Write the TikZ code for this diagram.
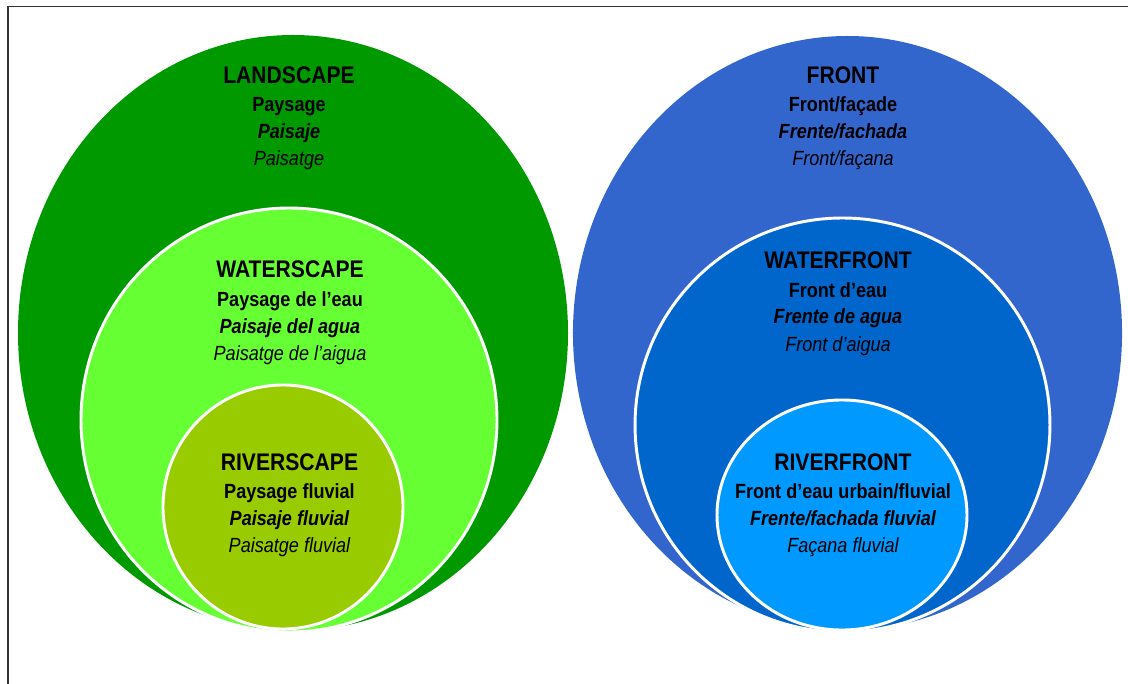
\documentclass[tikz,border=0pt]{standalone}
\usepackage{fontspec}
\setmainfont[FakeStretch=0.88]{Liberation Sans}
\usetikzlibrary{shapes.geometric}
\definecolor{cLand}{HTML}{009900}
\definecolor{cWater}{HTML}{66FF33}
\definecolor{cRiver}{HTML}{99CC00}
\definecolor{cFront}{HTML}{3366CC}
\definecolor{cWfront}{HTML}{0066CC}
\definecolor{cRfront}{HTML}{0099FF}
\tikzset{
  blob/.style={ellipse, inner sep=0pt, outer sep=0pt},
  inner blob/.style={blob, draw=white, line width=2.2pt},
  ttl/.style={anchor=base, inner sep=0pt, font=\fontsize{18}{20}\selectfont\bfseries},
  lfr/.style={anchor=base, inner sep=0pt, font=\fontsize{15.4}{18}\selectfont\bfseries},
  les/.style={anchor=base, inner sep=0pt, font=\fontsize{15.4}{18}\selectfont\bfseries\itshape},
  lca/.style={anchor=base, inner sep=0pt, font=\fontsize{15.4}{18}\selectfont\itshape},
  frame/.style={line width=0.9pt, draw=black!80},
}
\begin{document}
\begin{tikzpicture}[x=0.75pt,y=-0.75pt]
\useasboundingbox (0,0) rectangle (1128,684);
\draw[frame] (8,684) -- (8,6.5) -- (1128,6.5);
% left circles
\node[blob, fill=cLand, minimum width=412.5pt, minimum height=447pt] (land) at (293,333) {};
\node[inner blob, fill=cWater, minimum width=312pt, minimum height=318pt] (water) at (289,420) {};
\node[inner blob, fill=cRiver, minimum width=180pt, minimum height=183pt] (river) at (283,507) {};
% right circles
\node[blob, fill=cFront, minimum width=411.8pt, minimum height=445.5pt] (front) at (847.5,333) {};
\node[inner blob, fill=cWfront, minimum width=311.2pt, minimum height=310.5pt] (wfront) at (842.5,425) {};
\node[inner blob, fill=cRfront, minimum width=187.5pt, minimum height=172.5pt] (rfront) at (842,515) {};
% texts left
\node[ttl] (t1) at (289,84) {LANDSCAPE};
\node[lfr] (t1a) at (289,112) {Paysage};
\node[les] (t1b) at (289,139) {Paisaje};
\node[lca] (t1c) at (289,166) {Paisatge};
\node[ttl] (t2) at (290,278) {WATERSCAPE};
\node[lfr] (t2a) at (290,306.5) {Paysage de l’eau};
\node[les] (t2b) at (290,333.5) {Paisaje del agua};
\node[lca] (t2c) at (290,360.5) {Paisatge de l’aigua};
\node[ttl] (t3) at (289.5,470.5) {RIVERSCAPE};
\node[lfr] (t3a) at (289.5,498) {Paysage fluvial};
\node[les] (t3b) at (289.5,525) {Paisaje fluvial};
\node[lca] (t3c) at (289.5,552) {Paisatge fluvial};
% texts right
\node[ttl] (r1) at (843,84) {FRONT};
\node[lfr] (r1a) at (843,112) {Front/façade};
\node[les] (r1b) at (843,139) {Frente/fachada};
\node[lca] (r1c) at (843,166) {Front/façana};
\node[ttl] (r2) at (838,269) {WATERFRONT};
\node[lfr] (r2a) at (838,297) {Front d’eau};
\node[les] (r2b) at (838,324) {Frente de agua};
\node[lca] (r2c) at (838,351) {Front d’aigua};
\node[ttl] (r3) at (843,470.5) {RIVERFRONT};
\node[lfr] (r3a) at (843,498) {Front d’eau urbain/fluvial};
\node[les] (r3b) at (843,525) {Frente/fachada fluvial};
\node[lca] (r3c) at (843,552) {Façana fluvial};
\end{tikzpicture}
\end{document}
